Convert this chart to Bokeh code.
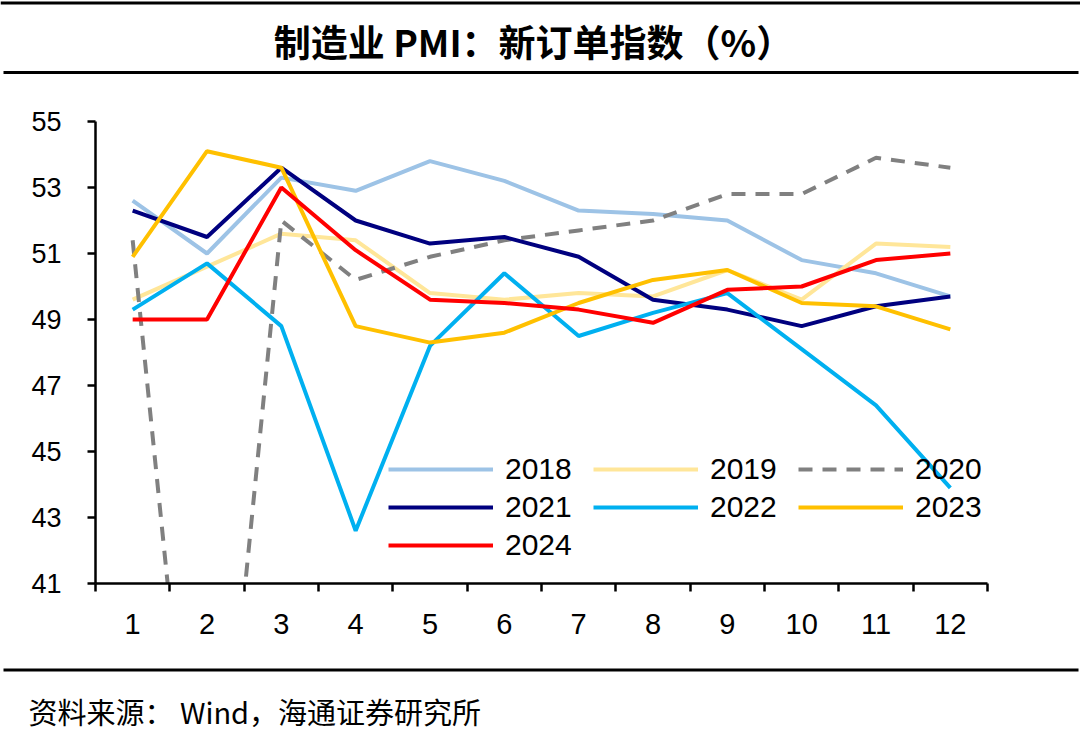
from bokeh.plotting import figure
from bokeh.layouts import column
from bokeh.models import Range1d, FixedTicker, Legend, LegendItem, Label, BoxAnnotation
from bokeh.embed import file_html
from bokeh.resources import INLINE

# ---- data ----
months = [1, 2, 3, 4, 5, 6, 7, 8, 9, 10, 11, 12]
month_labels = ["1", "2", "3", "4", "5", "6", "7", "8", "9", "10", "11", "12"]
y_ticks = [41, 43, 45, 47, 49, 51, 53, 55]

y2018 = [52.6, 51.0, 53.3, 52.9, 53.8, 53.2, 52.3, 52.2, 52.0, 50.8, 50.4, 49.7]
y2019 = [49.6, 50.6, 51.6, 51.4, 49.8, 49.6, 49.8, 49.7, 50.5, 49.6, 51.3, 51.2]
y2020 = [51.4, 29.3, 52.0, 50.2, 50.9, 51.4, 51.7, 52.0, 52.8, 52.8, 53.9, 53.6]
y2021 = [52.3, 51.5, 53.6, 52.0, 51.3, 51.5, 50.9, 49.6, 49.3, 48.8, 49.4, 49.7]
y2022 = [49.3, 50.7, 48.8, 42.6, 48.2, 50.4, 48.5, 49.2, 49.8, 48.1, 46.4, 43.9]
y2023 = [50.9, 54.1, 53.6, 48.8, 48.3, 48.6, 49.5, 50.2, 50.5, 49.5, 49.4, 48.7]
y2024 = [49.0, 49.0, 53.0, 51.1, 49.6, 49.5, 49.3, 48.9, 49.9, 50.0, 50.8, 51.0]

series_names = ["2018", "2019", "2020", "2021", "2022", "2023", "2024"]
series_values = [y2018, y2019, y2020, y2021, y2022, y2023, y2024]
series_colors = ["#9DC3E6", "#FFE699", "#808080", "#00007F", "#00B0F0", "#FFC000", "#FF0000"]
series_dash = ["solid", "solid", "14 10", "solid", "solid", "solid", "solid"]

title_text = "制造业 PMI：新订单指数（%）"
source_text = "资料来源： Wind，海通证券研究所"

W = 1080
TOP_H, MAIN_H, BOT_H = 95, 555, 81


def blank_fig(h):
    f = figure(width=W, height=h, output_backend="svg", toolbar_location=None,
               x_range=Range1d(0, W), y_range=Range1d(h, 0),
               x_axis_type=None, y_axis_type=None,
               min_border=0, min_border_left=0, min_border_right=0,
               min_border_top=0, min_border_bottom=0, frame_align=False,
               background_fill_color="white", border_fill_color="white")
    f.outline_line_color = None
    f.grid.visible = False
    f.title.visible = False
    return f


def rule(y0, y1, x0=0, x1=W):
    return BoxAnnotation(left=x0, right=x1, top=y0, bottom=y1,
                         fill_color="black", fill_alpha=1, line_color=None)


# ---- top: title and rules ----
top = blank_fig(TOP_H)
top.add_layout(rule(1, 4))
top.add_layout(rule(70.5, 73.5, 3, 1078))
top.add_layout(Label(x=533, y=40, text=title_text, text_align="center",
                     text_baseline="middle", text_font="Noto Sans CJK SC",
                     text_font_style="bold", text_font_size="37px", text_color="black"))

# ---- main chart ----
p = figure(width=W, height=MAIN_H, output_backend="svg", toolbar_location=None,
           x_range=Range1d(0.5, 12.5), y_range=Range1d(41, 55),
           min_border_left=95, min_border_right=93, min_border_top=26, min_border_bottom=67,
           frame_align=False,
           background_fill_color="white", border_fill_color="white")
p.outline_line_color = None
p.grid.visible = False
p.title.visible = False

xa = p.xaxis[0]
xa.ticker = FixedTicker(ticks=months, minor_ticks=[m - 0.5 for m in months] + [12.5])
xa.major_label_overrides = {m: l for m, l in zip(months, month_labels)}
xa.major_tick_in = 0
xa.major_tick_out = 0
xa.minor_tick_in = 0
xa.minor_tick_out = 8
xa.minor_tick_line_color = "black"
xa.minor_tick_line_width = 2.5
xa.axis_line_width = 2.5
xa.axis_line_color = "black"
xa.major_label_standoff = 22
xa.major_label_text_font = "Liberation Sans"
xa.major_label_text_font_size = "29px"
xa.major_label_text_color = "black"

ya = p.yaxis[0]
ya.ticker = FixedTicker(ticks=y_ticks, minor_ticks=[])
ya.major_tick_in = 0
ya.major_tick_out = 8
ya.major_tick_line_width = 2.5
ya.major_tick_line_color = "black"
ya.axis_line_width = 2.5
ya.axis_line_color = "black"
ya.major_label_standoff = 26
ya.major_label_text_font = "Liberation Sans"
ya.major_label_text_font_size = "27px"
ya.major_label_text_color = "black"

items = []
for name, vals, col, dash in zip(series_names, series_values, series_colors, series_dash):
    r = p.line(months, vals, line_color=col, line_width=4, line_dash=dash)
    items.append(LegendItem(label=name, renderers=[r]))

legend = Legend(items=items, ncols=3, orientation="horizontal",
                location=(293, 19), glyph_width=105, glyph_height=38,
                label_height=38, label_width=88, label_standoff=12,
                spacing=0, padding=0, margin=0,
                border_line_color=None, background_fill_alpha=0,
                label_text_font="Liberation Sans", label_text_font_size="30px",
                label_text_color="black")
legend.level = "underlay"
p.add_layout(legend)

# ---- bottom: rule and source ----
bot = blank_fig(BOT_H)
bot.add_layout(rule(18, 21, 3, 1078))
bot.add_layout(Label(x=28, y=60, text=source_text, text_align="left",
                     text_baseline="middle", text_font="Noto Sans CJK SC",
                     text_font_size="29px", text_color="black"))

layout = column(top, p, bot, spacing=0)
open("out.html", "w").write(file_html(layout, INLINE))
